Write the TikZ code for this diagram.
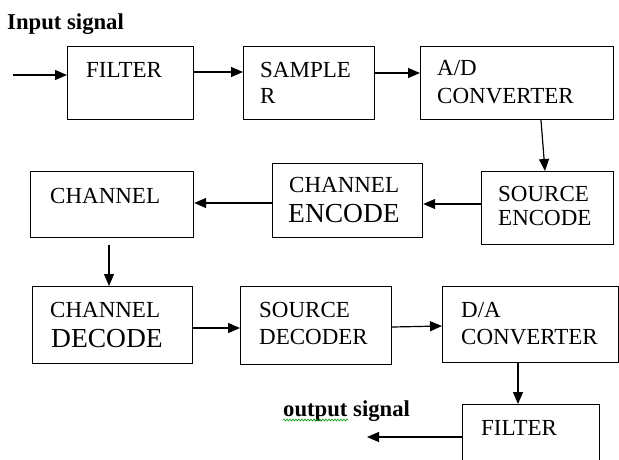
\documentclass[tikz,border=0pt]{standalone}
\usepackage{fontspec}
\setmainfont{Liberation Serif}
\usetikzlibrary{arrows.meta,decorations.pathmorphing}
\begin{document}
\begin{tikzpicture}[x=1pt,y=-1pt,
 box/.style={draw,line width=1.2pt,anchor=north west,inner sep=0},
 txt/.style={anchor=base west,inner sep=0,font=\fontsize{23}{26}\selectfont},
 big/.style={anchor=base west,inner sep=0,font=\fontsize{27.5}{30}\selectfont},
 lbl/.style={anchor=base west,inner sep=0,font=\bfseries\fontsize{22.7}{26}\selectfont},
 arr/.style={line width=1.2pt,-{Triangle[length=12pt,width=10pt]}}]
\useasboundingbox (0,0) rectangle (619,459);
% boxes
\node[box,minimum width=126pt,minimum height=73pt] (f1) at (67,46) {};
\node[box,minimum width=131pt,minimum height=73pt] (smp) at (243,46) {};
\node[box,minimum width=193pt,minimum height=73pt] (ad) at (420,46) {};
\node[box,minimum width=132pt,minimum height=73pt] (se) at (481,171) {};
\node[box,minimum width=150pt,minimum height=74pt] (ce) at (272,163) {};
\node[box,minimum width=163pt,minimum height=66pt] (ch) at (30,171) {};
\node[box,minimum width=160pt,minimum height=77pt] (cd) at (32,286) {};
\node[box,minimum width=151pt,minimum height=78pt] (sd) at (240,286) {};
\node[box,minimum width=176pt,minimum height=76pt] (da) at (442,286) {};
\node[box,minimum width=137pt,minimum height=75pt] (f2) at (462,404) {};
% texts
\node[lbl] (tin) at (7,29) {Input signal};
\node[txt] (t1) at (86,77) {FILTER};
\node[txt] (t2a) at (260,77) {SAMPLE};
\node[txt] (t2b) at (260,103) {R};
\node[txt] (t3a) at (437,75) {A/D};
\node[txt] (t3b) at (437,103) {CONVERTER};
\node[txt] (t4a) at (498,201) {SOURCE};
\node[txt] (t4b) at (498,225) {ENCODE};
\node[txt] (t5a) at (289,192) {CHANNEL};
\node[big] (t5b) at (288,222) {ENCODE};
\node[txt] (t6) at (50,203) {CHANNEL};
\node[txt] (t7a) at (50,317) {CHANNEL};
\node[big] (t7b) at (51,347) {DECODE};
\node[txt] (t8a) at (259,317) {SOURCE};
\node[txt] (t8b) at (259,344) {DECODER};
\node[txt] (t9a) at (461,317) {D/A};
\node[txt] (t9b) at (461,344) {CONVERTER};
\node[txt] (t10) at (481,435) {FILTER};
\node[lbl] (tout) at (283,416) {output signal};
\draw[green!60!black,line width=0.6pt,decorate,decoration={snake,amplitude=1pt,segment length=3pt}] (283,420) -- (348,420);
% connectors
\coordinate (in) at (13,75);
\draw[arr] (in) -- (f1.west |- in);
\draw[arr] (f1.east |- 0,72) -- (smp.west |- 0,72);
\draw[arr] (smp.east |- 0,73) -- (ad.west |- 0,73);
\draw[arr] (ad.south -| 541,0) -- (se.north -| 545,0);
\draw[arr] (se.west |- 0,204) -- (ce.east |- 0,204);
\draw[arr] (ce.west |- 0,203) -- (ch.east |- 0,203);
\coordinate (chd) at (109,245);
\draw[arr] (chd) -- (cd.north -| chd);
\draw[arr] (cd.east |- 0,328) -- (sd.west |- 0,328);
\draw[arr] (sd.east |- 0,327) -- (da.west |- 0,326);
\draw[arr] (da.south -| 518,0) -- (f2.north -| 518,0);
\coordinate (out) at (367,437);
\draw[arr] (f2.west |- out) -- (out);
\end{tikzpicture}
\end{document}
